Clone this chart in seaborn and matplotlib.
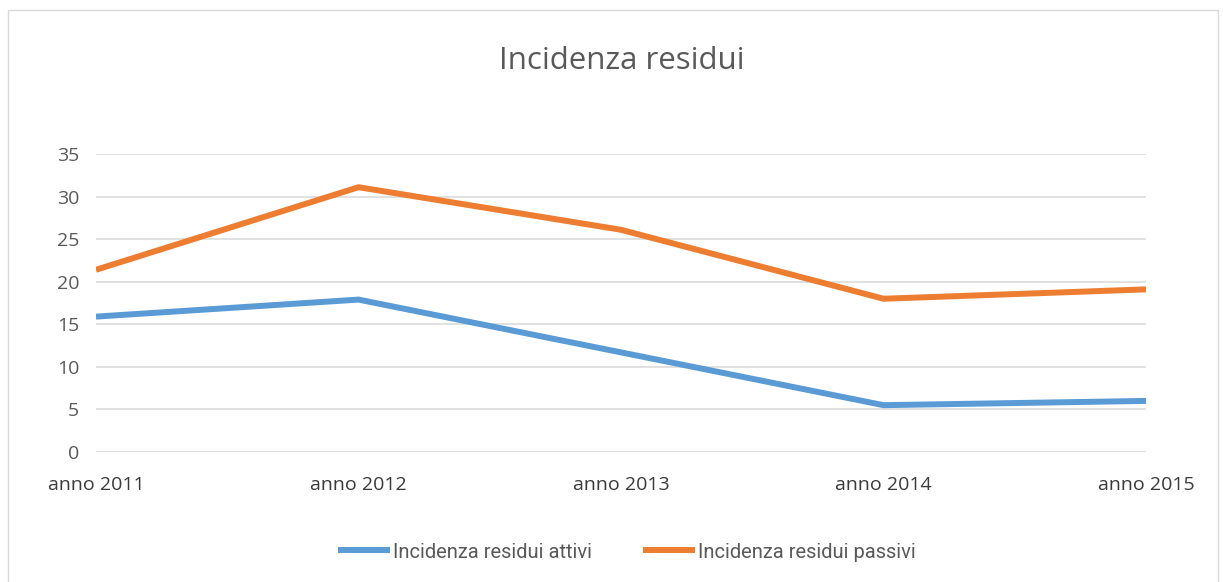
import pandas as pd
import seaborn as sns
import matplotlib.pyplot as plt
from matplotlib.patches import Rectangle


# values
anni = ["anno 2011", "anno 2012", "anno 2013", "anno 2014", "anno 2015"]
attivi = [15.9, 17.9, 11.7, 5.5, 6.0]
passivi = [21.4, 31.1, 26.1, 18.0, 19.1]
serie = ["Incidenza residui attivi", "Incidenza residui passivi"]
colori = ["#5B9BD5", "#ED7D31"]

data = pd.DataFrame({
	"anno": anni * 2,
	"valore": attivi + passivi,
	"serie": [serie[0]] * len(anni) + [serie[1]] * len(anni),
})

sns.set_style("white")
plt.rcParams['font.family'] = ['Open Sans', 'DejaVu Sans']

fig = plt.figure(figsize=(12.23, 5.82), dpi=100)
ax = fig.add_axes([96 / 1223, 1 - 452 / 582, (1146 - 96) / 1223, (452 - 154) / 582])

sns.lineplot(data=data, x="anno", y="valore", hue="serie", palette=colori,
	linewidth=4.3, ax=ax, sort=False, solid_capstyle="butt")

ax.set_xlim(0, 4)
ax.set_ylim(0, 35)
ax.set_yticks(range(0, 36, 5))
ax.set_xlabel("")
ax.set_ylabel("")
ax.yaxis.grid(True, color="#D9D9D9", linewidth=1.1)
ax.set_axisbelow(True)
for s in ax.spines.values():
	s.set_visible(False)
ax.tick_params(axis="y", length=0, pad=12, labelsize=14, labelcolor="#595959")
ax.tick_params(axis="x", length=0, pad=17, labelsize=14, labelcolor="#3A3A3A")

fig.text(0.508, 1 - 61 / 582, "Incidenza residui", ha="center", va="center",
	fontsize=22.5, color="#595959")

ax.legend(loc="center", bbox_to_anchor=(627 / 1223, 1 - 552 / 582),
	bbox_transform=fig.transFigure, ncol=2, frameon=False,
	handlelength=2.6, handletextpad=0.15, columnspacing=2.5,
	labelcolor="#595959", prop={"family": "Roboto", "size": 14.5})

fig.patches.append(Rectangle((8 / 1223, -0.01), 1210 / 1223, 1 - 10 / 582 + 0.01,
	transform=fig.transFigure, fill=False, edgecolor="#D9D9D9", linewidth=1))

fig.savefig("out.png", dpi=100)
